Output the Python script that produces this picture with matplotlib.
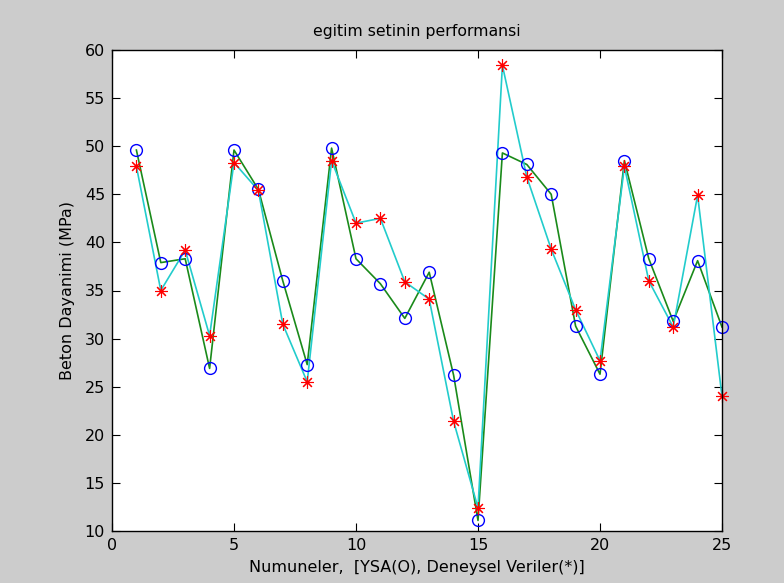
import numpy as np
import matplotlib.pyplot as plt

plt.rcParams['font.family'] = ['DejaVu Sans']

# numune no
numune = list(range(1, 26))

# YSA cikislari (O)
ysa = [49.6, 37.9, 38.3, 26.9, 49.6, 45.5, 36.0, 27.3, 49.8, 38.3,
       35.7, 32.1, 36.9, 26.2, 11.1, 49.3, 48.1, 45.0, 31.3, 26.3,
       48.5, 38.3, 31.8, 38.1, 31.2]

# deneysel veriler (*)
deneysel = [47.9, 35.0, 39.2, 30.3, 48.3, 45.4, 31.5, 25.5, 48.5, 42.0,
            42.5, 35.9, 34.1, 21.4, 12.4, 58.4, 46.8, 39.3, 33.0, 27.7,
            47.9, 36.0, 31.2, 44.9, 24.0]

fig = plt.figure(figsize=(7.84, 5.83), dpi=100, facecolor='#cccccc')
ax = fig.add_axes([112/784, 1 - 531/583, 610/784, 481/583])
ax.set_facecolor('white')

ax.plot(numune, ysa, color='#1a8a1a', lw=1.2)
ax.plot(numune, deneysel, color='#22cccc', lw=1.2)
ax.plot(numune, ysa, 'o', mfc='none', mec='blue', ms=8.5, mew=1.0, clip_on=False)
ax.plot(numune, deneysel, ls='none', marker=(8, 2, 0), color='red', ms=9, mew=0.8,
        clip_on=False)

ax.set_xlim(0, 25)
ax.set_ylim(10, 60)
ax.set_xticks(np.arange(0, 26, 5))
ax.set_yticks(np.arange(10, 61, 5))
ax.tick_params(direction='in', top=True, right=True, length=6, labelsize=11.5, pad=5)
for s in ax.spines.values():
    s.set_linewidth(1.0)

ax.set_title('egitim setinin performansi', fontsize=11.3, pad=10)
ax.set_xlabel('Numuneler,  [YSA(O), Deneysel Veriler(*)]', fontsize=11.5, labelpad=5)
ax.set_ylabel('Beton Dayanimi (MPa)', fontsize=11.5, labelpad=7)

fig.savefig('out.png', dpi=100, facecolor=fig.get_facecolor())
